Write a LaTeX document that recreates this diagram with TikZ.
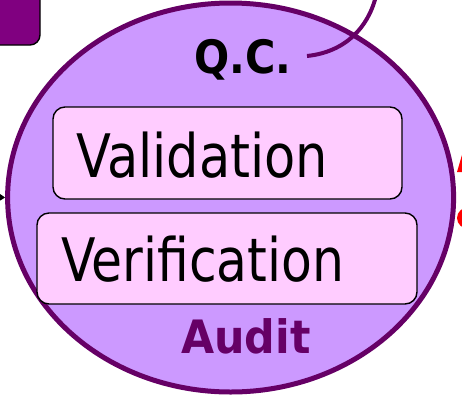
\documentclass[tikz,border=0pt]{standalone}
\usepackage{fontspec}
\usepackage{graphicx}
\setmainfont{DejaVu Sans}
\usetikzlibrary{shapes.geometric,arrows.meta}
\definecolor{dpurple}{HTML}{660066}
\definecolor{lav}{HTML}{CC99FF}
\definecolor{pinkbox}{HTML}{FFCCFF}
\definecolor{plum}{HTML}{800080}
\tikzset{
  itembox/.style={draw=black, line width=1.4pt, fill=pinkbox, rounded corners=12pt, inner sep=0pt},
  bigtext/.style={anchor=base west, inner sep=0pt, font=\fontsize{60}{60}\selectfont},
  boldtext/.style={anchor=base west, inner sep=0pt, font=\fontsize{46}{46}\selectfont\bfseries},
}
\begin{document}
\begin{tikzpicture}[x=1pt,y=-1pt]
\useasboundingbox (0,0) rectangle (462,397);
% top-left box
\draw[fill=plum, draw=black, line width=1.4pt, rounded corners=10pt] (-30,-30) rectangle (40,45);
% red partial shapes at right
\fill[red] (457,172) -- (464,148) -- (464,172) -- cycle;
\fill[red] (469,218) ellipse [x radius=12, y radius=11];
% main ellipse
\node[ellipse, draw=dpurple, line width=5pt, fill=lav, minimum width=446pt, minimum height=389pt, inner sep=0pt] (ell) at (230.6,197.5) {};
% connector from left
\coordinate (leftin) at (-15,197);
\draw[line width=1pt, -{Stealth[length=7pt,width=9pt]}] (leftin) -- (ell.west);
% curve from Q.C.
\coordinate (qcend) at (307,56);
\coordinate (topout) at (376,-4);
\draw[dpurple, line width=4pt] (qcend) .. controls (345,52) and (368,28) .. (topout);
% boxes
\node[itembox, minimum width=349pt, minimum height=92pt] (valbox) at (227.5,153) {};
\node[itembox, minimum width=380pt, minimum height=91pt] (verbox) at (227,258.5) {};
% texts
\node[bigtext] (val) at (76,177) {\scalebox{0.85}[1]{Validation}};
\node[bigtext] (ver) at (61,281) {\scalebox{0.84}[1]{Verification}};
\node[boldtext] (qc) at (194,73) {\scalebox{0.9}[1]{Q.C.}};
\node[boldtext, text=dpurple] (audit) at (181,353) {\scalebox{0.93}[1]{Audit}};
\end{tikzpicture}
\end{document}
